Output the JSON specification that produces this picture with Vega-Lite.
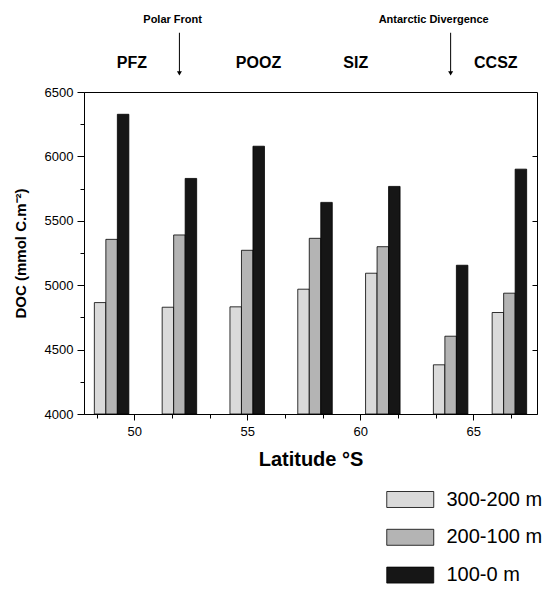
{
  "$schema": "https://vega.github.io/schema/vega-lite/v6.json",
  "width": 453,
  "height": 322,
  "autosize": "none",
  "padding": {"left": 84, "top": 92, "right": 16, "bottom": 176},
  "background": "white",
  "config": {
    "font": "Liberation Sans",
    "view": {"stroke": "black", "strokeWidth": 1},
    "axis": {"grid": false, "domainColor": "black", "tickColor": "black", "labelColor": "black", "titleColor": "black", "labelFont": "Liberation Sans", "titleFont": "Liberation Sans", "labelOverlap": false}
  },
  "datasets": {
    "doc": [
      {"lat": 49, "depth": "300-200 m", "doc": 4865},
      {"lat": 49, "depth": "200-100 m", "doc": 5356},
      {"lat": 49, "depth": "100-0 m", "doc": 6327},
      {"lat": 52, "depth": "300-200 m", "doc": 4829},
      {"lat": 52, "depth": "200-100 m", "doc": 5390},
      {"lat": 52, "depth": "100-0 m", "doc": 5829},
      {"lat": 55, "depth": "300-200 m", "doc": 4832},
      {"lat": 55, "depth": "200-100 m", "doc": 5271},
      {"lat": 55, "depth": "100-0 m", "doc": 6079},
      {"lat": 58, "depth": "300-200 m", "doc": 4969},
      {"lat": 58, "depth": "200-100 m", "doc": 5364},
      {"lat": 58, "depth": "100-0 m", "doc": 5643},
      {"lat": 61, "depth": "300-200 m", "doc": 5093},
      {"lat": 61, "depth": "200-100 m", "doc": 5299},
      {"lat": 61, "depth": "100-0 m", "doc": 5767},
      {"lat": 64, "depth": "300-200 m", "doc": 4382},
      {"lat": 64, "depth": "200-100 m", "doc": 4604},
      {"lat": 64, "depth": "100-0 m", "doc": 5155},
      {"lat": 66.6, "depth": "300-200 m", "doc": 4788},
      {"lat": 66.6, "depth": "200-100 m", "doc": 4938},
      {"lat": 66.6, "depth": "100-0 m", "doc": 5901}
    ],
    "zones": [
      {"zone": "PFZ", "lat": 49.9},
      {"zone": "POOZ", "lat": 55.5},
      {"zone": "SIZ", "lat": 59.8},
      {"zone": "CCSZ", "lat": 66.0}
    ],
    "fronts": [
      {"front": "Polar Front", "lat": 52, "label_lat": 51.7},
      {"front": "Antarctic Divergence", "lat": 64, "label_lat": 63.25}
    ]
  },
  "layer": [
    {
      "data": {"name": "doc"},
      "transform": [{"filter": "datum.depth === '300-200 m'"}],
      "mark": {"type": "bar", "stroke": "black", "strokeWidth": 0.8, "width": 11.5, "xOffset": -11.5},
      "encoding": {
        "x": {
          "field": "lat", "type": "quantitative",
          "scale": {"domain": [48, 67.6], "nice": false, "zero": false},
          "axis": {
            "orient": "bottom",
            "values": [48.3333, 49.1667, 50, 50.8333, 51.6667, 52.5, 53.3333, 54.1667, 55, 55.8333, 56.6667, 57.5, 58.3333, 59.1667, 60, 60.8333, 61.6667, 62.5, 63.3333, 64.1667, 65, 65.8333, 66.6667, 67.5],
            "labelExpr": "datum.value % 5 === 0 ? format(datum.value, 'd') : ''",
            "tickSize": {"condition": {"test": "datum.value % 5 === 0", "value": 6}, "value": 4},
            "labelFontSize": 13, "labelPadding": 5,
            "title": "Latitude °S", "titleFontSize": 20, "titleFontWeight": "bold", "titlePadding": 11
          }
        },
        "y": {
          "field": "doc", "type": "quantitative", "stack": null,
          "scale": {"domain": [4000, 6500], "nice": false, "zero": false},
          "axis": {
            "orient": "left",
            "values": [4000, 4250, 4500, 4750, 5000, 5250, 5500, 5750, 6000, 6250, 6500],
            "labelExpr": "datum.value % 500 === 0 ? format(datum.value, 'd') : ''",
            "tickSize": {"condition": {"test": "datum.value % 500 === 0", "value": 7}, "value": 4},
            "labelFontSize": 13, "labelPadding": 4,
            "title": "DOC (mmol C.m⁻²)", "titleFontSize": 15, "titleFontWeight": "bold", "titlePadding": 16
          }
        },
        "fill": {
          "field": "depth", "type": "nominal",
          "scale": {"domain": ["300-200 m", "200-100 m", "100-0 m"], "range": ["#dadada", "#b4b4b4", "#161616"]},
          "legend": {
            "title": null, "orient": "none", "legendX": 313.75, "legendY": 395,
            "symbolType": "M-2,-0.68H2V0.68H-2Z", "symbolSize": 552,
            "symbolStrokeColor": "black", "symbolStrokeWidth": 0.8,
            "labelFontSize": 20, "labelFont": "Liberation Sans", "labelColor": "black",
            "labelOffset": 23.75, "rowPadding": 14.8, "padding": 0
          }
        }
      }
    },
    {
      "data": {"name": "doc"},
      "transform": [{"filter": "datum.depth === '200-100 m'"}],
      "mark": {"type": "bar", "stroke": "black", "strokeWidth": 0.8, "width": 11.5, "xOffset": 0},
      "encoding": {
        "x": {"field": "lat", "type": "quantitative"},
        "y": {"field": "doc", "type": "quantitative", "stack": null, "axis": null},
        "fill": {"field": "depth", "type": "nominal"}
      }
    },
    {
      "data": {"name": "doc"},
      "transform": [{"filter": "datum.depth === '100-0 m'"}],
      "mark": {"type": "bar", "stroke": "black", "strokeWidth": 0.8, "width": 11.5, "xOffset": 11.5},
      "encoding": {
        "x": {"field": "lat", "type": "quantitative"},
        "y": {"field": "doc", "type": "quantitative", "stack": null, "axis": null},
        "fill": {"field": "depth", "type": "nominal"}
      }
    },
    {
      "data": {"name": "zones"},
      "mark": {"type": "text", "font": "Liberation Sans", "fontWeight": "bold", "fontSize": 16, "align": "center", "baseline": "middle", "color": "black"},
      "encoding": {
        "x": {"field": "lat", "type": "quantitative"},
        "y": {"datum": 6725, "type": "quantitative", "axis": {"orient": "right", "values": [4500, 5000, 5500, 6000], "labels": false, "tickSize": -5, "title": null, "domain": false}},
        "text": {"field": "zone"}
      }
    },
    {
      "data": {"name": "fronts"},
      "mark": {"type": "rule", "color": "black", "strokeWidth": 1},
      "encoding": {
        "x": {"field": "lat", "type": "quantitative"},
        "y": {"datum": 6960, "type": "quantitative", "axis": null},
        "y2": {"datum": 6650}
      }
    },
    {
      "data": {"name": "fronts"},
      "mark": {"type": "point", "shape": "triangle-down", "filled": true, "color": "black", "size": 25, "opacity": 1},
      "encoding": {
        "x": {"field": "lat", "type": "quantitative"},
        "y": {"datum": 6645, "type": "quantitative", "axis": null}
      }
    },
    {
      "data": {"name": "fronts"},
      "mark": {"type": "text", "font": "Liberation Sans", "fontWeight": "bold", "fontSize": 11, "align": "center", "baseline": "middle", "color": "black"},
      "encoding": {
        "x": {"field": "label_lat", "type": "quantitative"},
        "y": {"datum": 7060, "type": "quantitative", "axis": null},
        "text": {"field": "front"}
      }
    }
  ],
  "resolve": {"axis": {"y": "independent"}}
}
